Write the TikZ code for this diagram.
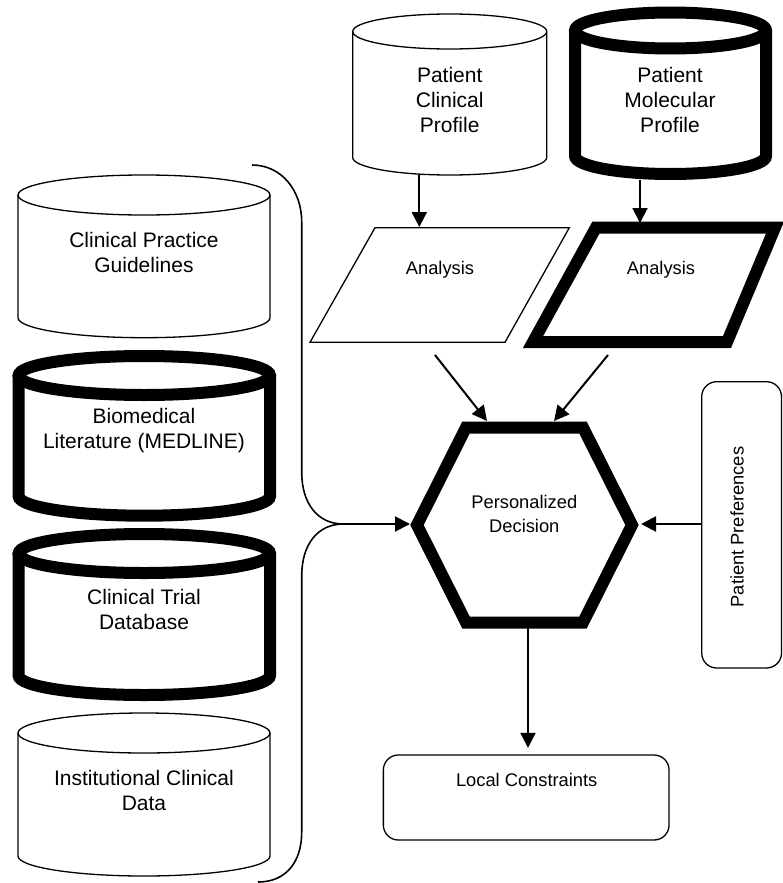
\documentclass[tikz,border=0pt]{standalone}
\usepackage{fontspec}
\setmainfont{Liberation Sans}
\usetikzlibrary{arrows.meta}
\newcommand{\cylshape}[6]{%
  \draw[#6] (#1-#4, #2+#5) -- (#1-#4, #3-#5) arc[start angle=180, end angle=360, x radius=#4pt, y radius=#5pt] -- (#1+#4, #2+#5);
  \draw[#6] (#1, #2+#5) ellipse [x radius=#4pt, y radius=#5pt];
}
\begin{document}
\begin{tikzpicture}[x=1pt,y=-1pt,
  thinln/.style={line width=1.3pt},
  boldln/.style={line width=12pt, line join=miter},
  arr/.style={line width=2pt, -{Triangle[length=15pt,width=15pt]}},
  bracestyle/.style={line width=1.6pt},
  txtA/.style={font=\fontsize{21}{25}\selectfont, align=center, inner sep=0pt},
  txtB/.style={font=\fontsize{18.3}{23.3}\selectfont, align=center, inner sep=0pt},
  boxstyle/.style={draw, line width=1.3pt, rounded corners=15pt, rectangle, inner sep=0pt}]
\useasboundingbox (0,0) rectangle (783,883);
\clip (0,0) rectangle (783,883);

% cylinders
\cylshape{449.7}{14}{175}{97}{17.5}{thinln}
\cylshape{670.5}{12.5}{174}{95.5}{18}{boldln}
\cylshape{144}{175}{337.7}{126}{20}{thinln}
\cylshape{144.3}{356}{515.7}{125.7}{19.5}{boldln}
\cylshape{144.3}{534}{695}{125.7}{19.5}{boldln}
\cylshape{144}{713}{876}{126}{20}{thinln}

\node[txtA] (pcp) at (449.7,100) {Patient\\Clinical\\Profile};
\node[txtA] (pmp) at (670,100) {Patient\\Molecular\\Profile};
\node[txtA] (cpg) at (144,252.5) {Clinical Practice\\Guidelines};
\node[txtA] (bml) at (144,430.5) {Biomedical\\Literature (MEDLINE)};
\node[txtA] (ctd) at (144,609.7) {Clinical Trial\\Database};
\node[txtA] (icd) at (144,790) {Institutional Clinical\\Data};

% parallelograms
\draw[thinln] (310,342.3) -- (375,227.7) -- (569.3,227.7) -- (505,342.3) -- cycle;
\draw[boldln] (533,342) -- (596,227.5) -- (775,227.5) -- (727,342) -- cycle;
\node[txtB] (an1) at (440,270) {Analysis};
\node[txtB] (an2) at (661,270) {Analysis};

% hexagon
\coordinate (h1) at (466,427.5);
\coordinate (h2) at (583,427.5);
\coordinate (h3) at (632,525);
\coordinate (h4) at (583,622.5);
\coordinate (h5) at (466,622.5);
\coordinate (h6) at (417,525);
\draw[boldln] (h1) -- (h2) -- (h3) -- (h4) -- (h5) -- (h6) -- cycle;
\node[txtB] (pd) at (524.3,514) {Personalized\\Decision};

% boxes
\node[boxstyle, minimum width=79.8pt, minimum height=286.3pt] (ppbox) at (741.6,524.85) {};
\node[txtB, rotate=90] (pptext) at (737,527) {Patient Preferences};
\node[boxstyle, minimum width=285.7pt, minimum height=85pt] (lcbox) at (526.2,797.5) {};
\node[txtB] (lctext) at (526.7,780) {Local Constraints};

% brace
\coordinate (brTop) at (252,165);
\coordinate (brTip) at (343.3,524);
\coordinate (brBot) at (258,882);
\draw[bracestyle] (brTop) .. controls (281,165) and (301.7,190) .. (301.7,222) -- (301.7,472)
  .. controls (301.7,504) and (318,524) .. (brTip)
  .. controls (318,524) and (301.7,544) .. (301.7,576) -- (301.7,832)
  .. controls (301.7,862) and (286,882) .. (brBot);

% connector endpoints
\coordinate (pcpB) at (419.3,175);
\coordinate (an1T) at (419.3,227);
\coordinate (pmpB) at (640,180);
\coordinate (an2T) at (640,223);
\coordinate (an1B) at (435,355);
\coordinate (hexTL) at (487,421);
\coordinate (an2B) at (608,355);
\coordinate (hexTR) at (554,421);
\coordinate (hexL) at (410,524);
\coordinate (hexR) at (641,524);
\coordinate (hexB) at (528,628);

\draw[arr] (pcpB) -- (an1T);
\draw[arr] (pmpB) -- (an2T);
\draw[arr] (an1B) -- (hexTL);
\draw[arr] (an2B) -- (hexTR);
\draw[arr] (brTip) -- (hexL);
\draw[arr] (ppbox.west |- hexR) -- (hexR);
\draw[arr, shorten >=6.5pt] (hexB) -- (hexB |- lcbox.north);
\end{tikzpicture}
\end{document}
